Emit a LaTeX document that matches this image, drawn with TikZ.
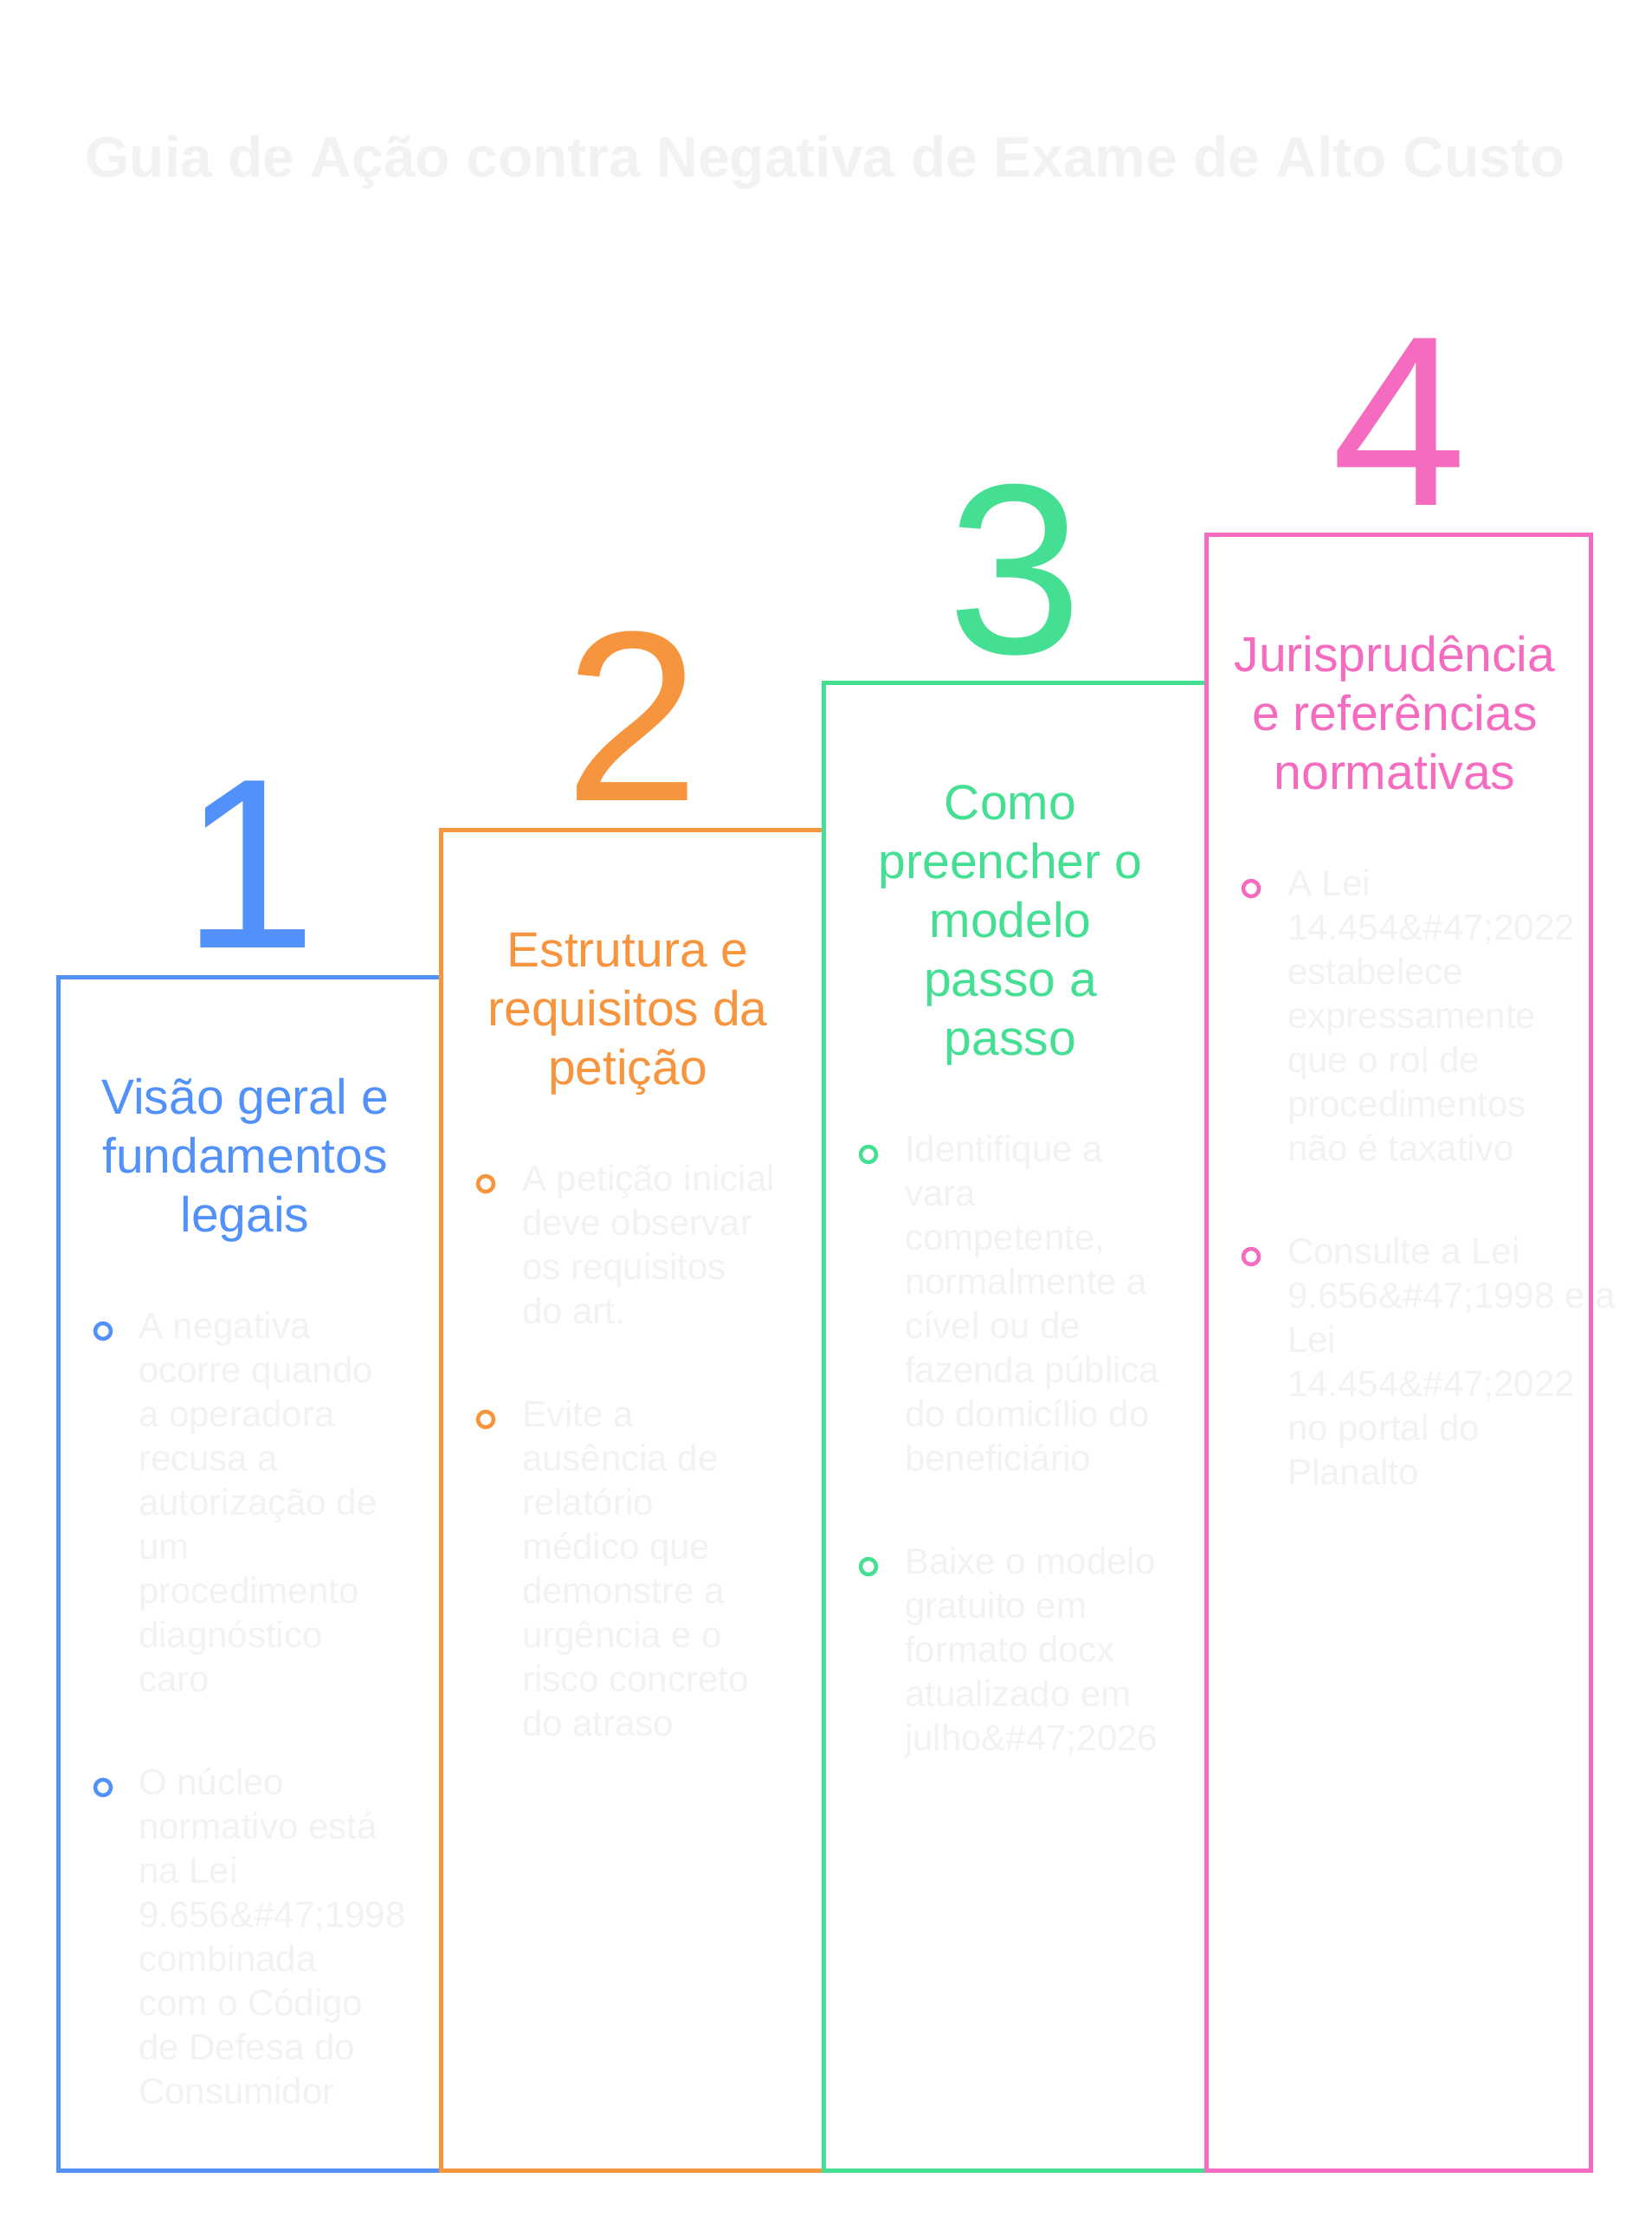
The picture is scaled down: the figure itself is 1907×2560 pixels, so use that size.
\documentclass[tikz,border=0pt]{standalone}
\usepackage{fontspec}
\setmainfont{Liberation Sans}
\usepackage{tikz}
\definecolor{stepBlue}{HTML}{5291FA}
\definecolor{stepOrange}{HTML}{F7953F}
\definecolor{stepGreen}{HTML}{45DF94}
\definecolor{stepPink}{HTML}{F56BBF}
\definecolor{faintGray}{HTML}{F2F2F2}

\tikzset{
  stepframe/.style={line width=5pt, line join=miter},
  stepdigit/.style={anchor=base, inner sep=0pt, font=\fontsize{280}{280}\selectfont},
  stephead/.style={anchor=base, inner sep=0pt, align=center, font=\fontsize{57}{68}\selectfont},
  stepbody/.style={anchor=base west, inner sep=0pt, align=left, text=faintGray, font=\fontsize{42}{51}\selectfont},
  stepdot/.style={circle, draw, line width=4.5pt, fill=white, inner sep=0pt, minimum size=18pt},
}

\begin{document}
\begin{tikzpicture}[x=1pt, y=-1pt]
  \useasboundingbox (0,0) rectangle (1907,2560);

  \node[anchor=base, inner sep=0pt, text=faintGray, font=\fontsize{66}{80}\selectfont\bfseries] (title) at (953,204) {Guia de Ação contra Negativa de Exame de Alto Custo};

  % step 1 (text nodes sit on the baseline of their last line)
  \draw[stepBlue, stepframe] (67,1128) rectangle (509,2506);
  \node[stepdigit, text=stepBlue] (num1) at (288,1094) {1};
  \node[stephead, text=stepBlue] (head1) at (283,1422) {Visão geral e\\fundamentos\\legais};
  \node[stepdot, draw=stepBlue] (dot1a) at (119,1537) {};
  \node[stepbody] (text1a) at (160,1953) {A negativa\\ocorre quando\\a operadora\\recusa a\\autorização de\\um\\procedimento\\diagnóstico\\caro};
  \node[stepdot, draw=stepBlue] (dot1b) at (119,2064) {};
  \node[stepbody] (text1b) at (160,2429) {O núcleo\\normativo está\\na Lei\\9.656\&\#47;1998\\combinada\\com o Código\\de Defesa do\\Consumidor};

  % step 2
  \draw[stepOrange, stepframe] (509,958) rectangle (951,2506);
  \node[stepdigit, text=stepOrange] (num2) at (730,924) {2};
  \node[stephead, text=stepOrange] (head2) at (725,1252) {Estrutura e\\requisitos da\\petição};
  \node[stepdot, draw=stepOrange] (dot2a) at (561,1367) {};
  \node[stepbody] (text2a) at (603,1528) {A petição inicial\\deve observar\\os requisitos\\do art.};
  \node[stepdot, draw=stepOrange] (dot2b) at (561,1639) {};
  \node[stepbody] (text2b) at (603,2004) {Evite a\\ausência de\\relatório\\médico que\\demonstre a\\urgência e o\\risco concreto\\do atraso};

  % step 3
  \draw[stepGreen, stepframe] (951,788) rectangle (1393,2506);
  \node[stepdigit, text=stepGreen] (num3) at (1172,754) {3};
  \node[stephead, text=stepGreen] (head3) at (1167,1218) {Como\\preencher o\\modelo\\passo a\\passo};
  \node[stepdot, draw=stepGreen] (dot3a) at (1003,1333) {};
  \node[stepbody] (text3a) at (1045,1698) {Identifique a\\vara\\competente,\\normalmente a\\cível ou de\\fazenda pública\\do domicílio do\\beneficiário};
  \node[stepdot, draw=stepGreen] (dot3b) at (1003,1809) {};
  \node[stepbody] (text3b) at (1045,2021) {Baixe o modelo\\gratuito em\\formato docx\\atualizado em\\julho\&\#47;2026};

  % step 4
  \node[stepdigit, text=stepPink] (num4) at (1616,583) {4};
  \node[stephead, text=stepPink] (head4) at (1611,911) {Jurisprudência\\e referências\\normativas};
  \node[stepdot, draw=stepPink] (dot4a) at (1445,1026) {};
  \node[stepbody] (text4a) at (1487,1340) {A Lei\\14.454\&\#47;2022\\estabelece\\expressamente\\que o rol de\\procedimentos\\não é taxativo};
  \node[stepdot, draw=stepPink] (dot4b) at (1445,1451) {};
  \node[stepbody] (text4b) at (1487,1714) {Consulte a Lei\\9.656\&\#47;1998 e a\\Lei\\14.454\&\#47;2022\\no portal do\\Planalto};
  \draw[stepPink, stepframe] (1393,617) rectangle (1837,2506);
\end{tikzpicture}
\end{document}
